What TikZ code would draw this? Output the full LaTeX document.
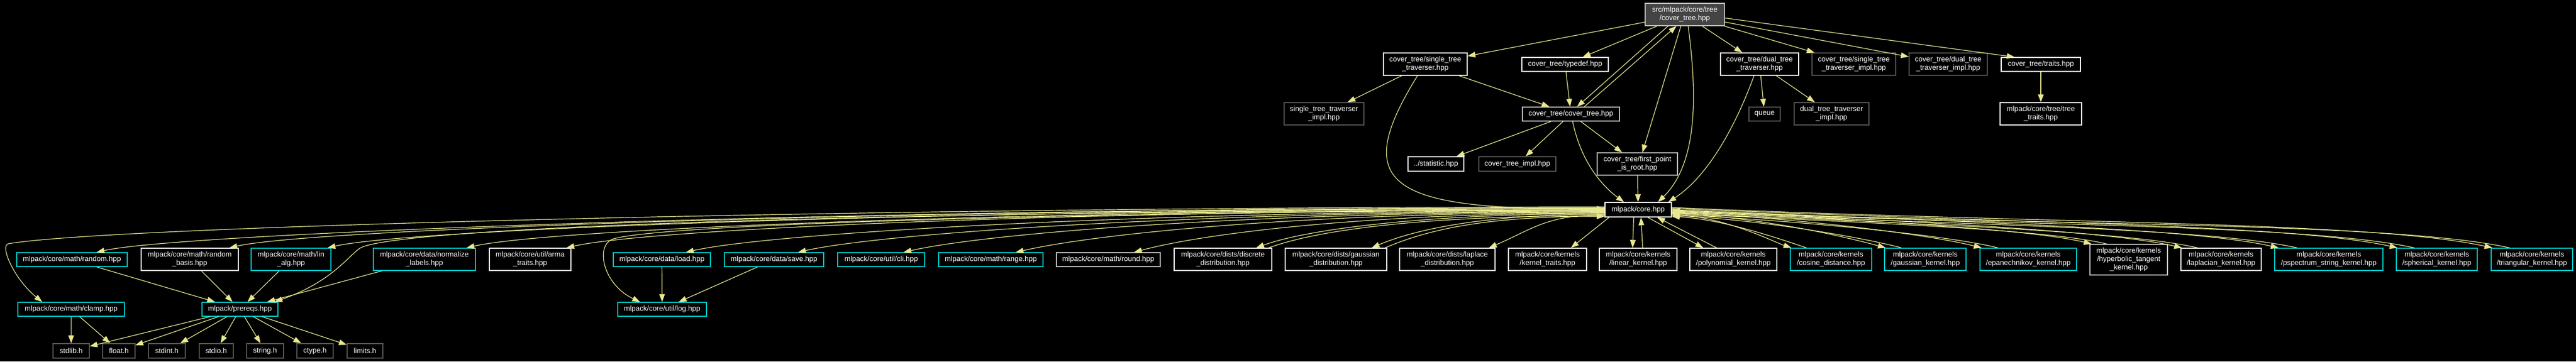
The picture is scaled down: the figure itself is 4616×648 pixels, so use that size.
\documentclass[tikz,border=0pt]{standalone}
\usepackage{fontspec}
\setmainfont{Liberation Sans}
\usetikzlibrary{arrows.meta,calc}
\definecolor{edgec}{RGB}{232,232,145}
\definecolor{cyanc}{RGB}{0,200,200}
\definecolor{grayd}{RGB}{85,85,85}
\definecolor{grayl}{RGB}{192,192,192}
\definecolor{topfill}{RGB}{68,68,68}
\tikzset{
  nb/.style={rectangle, fill=black, text=white, line width=0.7pt, inner sep=0pt, align=center, font=\fontsize{6.5pt}{7.5pt}\selectfont},
  nw/.style={nb, draw=white},
  nc/.style={nb, draw=cyanc},
  nd/.style={nb, draw=grayd},
  nl/.style={nb, draw=grayl},
  bx/.style 2 args={minimum width=#1*0.5pt, minimum height=#2*0.5pt},
  dep/.style={draw=edgec, line width=0.6pt, -{Triangle[length=7pt,width=5pt]}},
}
\begin{document}
\begin{tikzpicture}[x=0.5pt,y=-0.5pt]
\fill[black] (0,0) rectangle (4616,648);
\useasboundingbox (0,0) rectangle (4616,648);
% ---- top part
\node[nl, fill=topfill, bx={142}{40}] (top) at (3019,26) {src/mlpack/core/tree\\/cover\_tree.hpp};
\node[nw, bx={150}{40}] (stt) at (2554,115) {cover\_tree/single\_tree\\\_traverser.hpp};
\node[nw, bx={155}{25}] (typedef) at (2804.5,115.5) {cover\_tree/typedef.hpp};
\node[nl, bx={174}{25}] (ctree) at (2815,204.5) {cover\_tree/cover\_tree.hpp};
\node[nd, bx={143}{40}] (sttimpl) at (2372.5,204) {single\_tree\_traverser\\\_impl.hpp};
\node[nw, bx={140}{40}] (dtt) at (3153,115) {cover\_tree/dual\_tree\\\_traverser.hpp};
\node[nd, bx={150}{40}] (cstti) at (3322,115) {cover\_tree/single\_tree\\\_traverser\_impl.hpp};
\node[nd, bx={140}{40}] (cdtti) at (3491,115) {cover\_tree/dual\_tree\\\_traverser\_impl.hpp};
\node[nw, bx={142}{25}] (traits) at (3657,115.5) {cover\_tree/traits.hpp};
\node[nw, bx={146}{40}] (treetraits) at (3657,204) {mlpack/core/tree/tree\\\_traits.hpp};
\node[nd, bx={56}{25}] (queue) at (3162,204.5) {queue};
\node[nd, bx={134}{40}] (dttimpl) at (3282,204) {dual\_tree\_traverser\\\_impl.hpp};
\node[nw, bx={100}{26}] (statistic) at (2573,294) {../statistic.hpp};
\node[nd, bx={138}{26}] (ctimpl) at (2719,294) {cover\_tree\_impl.hpp};
\node[nl, bx={144}{40}] (fpir) at (2934,294) {cover\_tree/first\_point\\\_is\_root.hpp};
\node[nw, bx={119}{26}] (core) at (2935.5,376) {mlpack/core.hpp};
% ---- bottom row
\node[nc, bx={198}{25}] (random) at (129,465.5) {mlpack/core/math/random.hpp};
\node[nw, bx={174}{40}] (rbasis) at (340,465) {mlpack/core/math/random\\\_basis.hpp};
\node[nc, bx={143}{40}] (linalg) at (521.5,465) {mlpack/core/math/lin\\\_alg.hpp};
\node[nc, bx={183}{40}] (normlabels) at (760.5,465) {mlpack/core/data/normalize\\\_labels.hpp};
\node[nw, bx={146}{40}] (armatraits) at (950,465) {mlpack/core/util/arma\\\_traits.hpp};
\node[nc, bx={174}{25}] (load) at (1186,465.5) {mlpack/core/data/load.hpp};
\node[nc, bx={178}{25}] (save) at (1387,465.5) {mlpack/core/data/save.hpp};
\node[nc, bx={156}{25}] (cli) at (1579,465.5) {mlpack/core/util/cli.hpp};
\node[nc, bx={187}{25}] (range) at (1775.5,465.5) {mlpack/core/math/range.hpp};
\node[nl, bx={186}{25}] (round) at (1986,465.5) {mlpack/core/math/round.hpp};
\node[nw, bx={175}{40}] (discrete) at (2191.5,465) {mlpack/core/dists/discrete\\\_distribution.hpp};
\node[nw, bx={182}{40}] (gaussdist) at (2394,465) {mlpack/core/dists/gaussian\\\_distribution.hpp};
\node[nw, bx={171}{40}] (laplacedist) at (2593.5,465) {mlpack/core/dists/laplace\\\_distribution.hpp};
\node[nw, bx={140}{40}] (kerneltraits) at (2773,465) {mlpack/core/kernels\\/kernel\_traits.hpp};
\node[nw, bx={139}{40}] (linear) at (2935.5,465) {mlpack/core/kernels\\/linear\_kernel.hpp};
\node[nw, bx={156}{40}] (poly) at (3106,465) {mlpack/core/kernels\\/polynomial\_kernel.hpp};
\node[nc, bx={146}{40}] (cosine) at (3281,465) {mlpack/core/kernels\\/cosine\_distance.hpp};
\node[nc, bx={146}{40}] (gausskernel) at (3450,465) {mlpack/core/kernels\\/gaussian\_kernel.hpp};
\node[nc, bx={173}{40}] (epan) at (3634.5,465) {mlpack/core/kernels\\/epanechnikov\_kernel.hpp};
\node[nl, bx={139}{55}] (hyper) at (3814.5,465.5) {mlpack/core/kernels\\/hyperbolic\_tangent\\\_kernel.hpp};
\node[nw, bx={144}{40}] (laplacian) at (3980,465) {mlpack/core/kernels\\/laplacian\_kernel.hpp};
\node[nc, bx={194}{40}] (pspectrum) at (4173,465) {mlpack/core/kernels\\/pspectrum\_string\_kernel.hpp};
\node[nc, bx={145}{40}] (spherical) at (4366.5,465) {mlpack/core/kernels\\/spherical\_kernel.hpp};
\node[nc, bx={146}{40}] (triangular) at (4537,465) {mlpack/core/kernels\\/triangular\_kernel.hpp};
% ---- lower levels
\node[nc, bx={191}{25}] (clamp) at (127.5,554.5) {mlpack/core/math/clamp.hpp};
\node[nc, bx={136}{25}] (prereqs) at (430,554.5) {mlpack/prereqs.hpp};
\node[nc, bx={159}{25}] (log) at (1186.5,554.5) {mlpack/core/util/log.hpp};
\node[nd, bx={65}{26}] (stdlib) at (127.5,629) {stdlib.h};
\node[nd, bx={58}{26}] (float) at (213,629) {float.h};
\node[nd, bx={66}{26}] (stdint) at (299,629) {stdint.h};
\node[nd, bx={61}{26}] (stdio) at (387.5,629) {stdio.h};
\node[nd, bx={66}{26}] (string) at (475,629) {string.h};
\node[nd, bx={65}{26}] (ctype) at (564.5,629) {ctype.h};
\node[nd, bx={64}{26}] (limits) at (654,629) {limits.h};
% ---- edges, top part
\draw[dep] (top) -- (stt);
\draw[dep] (top) -- (typedef);
\draw[dep] ($(top.south)+(-30,0)$) -- ($(ctree.north)+(11,0)$);
\draw[dep] ($(ctree.north)+(24,0)$) -- ($(top.south)+(-15,0)$);
\draw[dep] ($(top.south)+(-7,0)$) -- ($(fpir.north)+(9,0)$);
\draw[dep] ($(top.south)+(6,0)$) .. controls (3040,160) and (3045,290) .. ($(core.north)+(35.5,0)$);
\draw[dep] (top) -- (dtt);
\draw[dep] (top) -- (cstti);
\draw[dep] (top) -- (cdtti);
\draw[dep] ($(top.north east)+(0,27)$) -- ($(traits.north)+(-47,0)$);
\draw[dep] (traits) -- (treetraits);
\draw[dep] (stt) -- (sttimpl);
\draw[dep] (stt) -- (ctree);
\draw[dep] ($(stt.south)+(-14,0)$) .. controls (2420,330) and (2480,378) .. ($(core.west)+(0,-2)$);
\draw[dep] (typedef) -- (ctree);
\draw[dep] (ctree) -- (statistic);
\draw[dep] (ctree) -- (ctimpl);
\draw[dep] (ctree) -- (fpir);
\draw[dep] ($(ctree.south)+(3,0)$) .. controls (2835,300) and (2880,340) .. ($(core.north)+(-25.5,0)$);
\draw[dep] (fpir) -- (core);
\draw[dep] (dtt) -- (queue);
\draw[dep] (dtt) -- (dttimpl);
\draw[dep] ($(dtt.south)+(-10,0)$) .. controls (3120,200) and (3070,310) .. ($(core.north)+(54,0)$);
% ---- core to the left
\draw[dep] ($(core.west)+(0,-5)$) .. controls (1600,371) and (200,405) .. (15,437) .. controls (-1,440) and (25,500) .. ($(clamp.north)+(-52,0)$);
\draw[dep] ($(core.west)+(0,1)$) .. controls (1500,377) and (700,410) .. (645,445) .. controls (625,458) and (595,505) .. ($(prereqs.north)+(62,0)$);
\draw[dep] (core.west) .. controls (2000,380) and (1200,400) .. (1100,428) .. controls (1065,438) and (1080,510) .. ($(log.north)+(-39.5,0)$);
\draw[dep] ($(core.west)+(0,-3.5)$) .. controls (1525,372.5) and (323,418) .. ($(random.north)+(44,0)$);
\draw[dep] ($(core.west)+(0,-2.3)$) .. controls (1643.5,373.7) and (561,410) .. ($(rbasis.north)+(71,0)$);
\draw[dep] ($(core.west)+(0,-1.4)$) .. controls (1731.5,374.6) and (737,410) .. ($(linalg.north)+(65.5,0)$);
\draw[dep] ($(core.west)+(0,-0.2)$) .. controls (1856,375.8) and (986,410) .. ($(normlabels.north)+(75.5,0)$);
\draw[dep] ($(core.west)+(0,0.7)$) .. controls (1945.5,376.7) and (1165,410) .. ($(armatraits.north)+(65,0)$);
\draw[dep] ($(core.west)+(0,1.8)$) .. controls (2052.5,377.8) and (1379,418) .. ($(load.north)+(43,0)$);
\draw[dep] ($(core.west)+(0,2.8)$) .. controls (2153,378.8) and (1580,418) .. ($(save.north)+(43,0)$);
\draw[dep] ($(core.west)+(0,3.7)$) .. controls (2247.5,379.7) and (1769,418) .. ($(cli.north)+(40,0)$);
\draw[dep] ($(core.west)+(0,4.7)$) .. controls (2348,380.7) and (1970,418) .. ($(range.north)+(44.5,0)$);
\draw[dep] ($(core.west)+(0,5.8)$) .. controls (2454,381.8) and (2158.6,418) .. ($(round.north)+(46,0)$);
\draw[dep] ($(core.west)+(0,6.9)$) .. controls (2563.5,382.9) and (2344.75,410) .. ($(discrete.north)+(59.5,0)$);
\draw[dep] ($(core.west)+(0,7.9)$) .. controls (2667,383.9) and (2538,410) .. ($(gaussdist.north)+(64,0)$);
\draw[dep] ($(core.west)+(0,9)$) .. controls (2772,385) and (2748,410) .. ($(laplacedist.north)+(74.5,0)$);
\draw[dep] ($(core.south west)+(8,0)$) -- ($(kerneltraits.north)+(42,0)$);
\draw[dep] ($(discrete.north)+(82,0)$) .. controls (2367.25,410) and (2563.5,386.9) .. ($(core.west)+(0,10.9)$);
\draw[dep] ($(gaussdist.north)+(88,0)$) .. controls (2562,410) and (2667,387.9) .. ($(core.west)+(0,11.9)$);
% ---- core straight down
\draw[dep] ($(core.south)+(-8,0)$) -- ($(linear.north)+(-10,0)$);
\draw[dep] ($(linear.north)+(8,0)$) -- ($(core.south)+(5,0)$);
\draw[dep] ($(core.south)+(17,0)$) -- ($(poly.north)+(-54,0)$);
\draw[dep] ($(poly.north)+(-30,0)$) -- ($(core.south)+(34,0)$);
% ---- core to the right
\draw[dep] ($(core.east)+(0,8)$) .. controls (3091.75,388.3) and (3177.75,433.55) .. ($(cosine.north)+(-71,0)$);
\draw[dep] ($(cosine.north)+(-44,0)$) .. controls (3204.75,433.55) and (3091.75,393.3) .. ($(core.east)+(0,12)$);
\draw[dep] ($(core.east)+(0,6.3)$) .. controls (3167.8,390) and (3321.4,428.5) .. ($(gausskernel.north)+(-71,0)$);
\draw[dep] ($(gausskernel.north)+(-43,0)$) .. controls (3349.4,428.5) and (3167.8,395) .. ($(core.east)+(0,10.3)$);
\draw[dep] ($(core.east)+(0,4.7)$) .. controls (3245.2,391.8) and (3467.6,423.3) .. ($(epan.north)+(-83.5,0)$);
\draw[dep] ($(epan.north)+(-54.5,0)$) .. controls (3496.6,423.3) and (3245.2,396.8) .. ($(core.east)+(0,8.7)$);
\draw[dep] ($(core.east)+(0,2.8)$) .. controls (3333.9,393.9) and (3635,410.4) .. ($(hyper.north)+(-66.5,0)$);
\draw[dep] ($(hyper.north)+(-39.5,0)$) .. controls (3662,410.4) and (3333.9,398.9) .. ($(core.east)+(0,6.8)$);
\draw[dep] ($(core.east)+(0,1.3)$) .. controls (3406.75,395.6) and (3772.75,412.55) .. ($(laplacian.north)+(-70,0)$);
\draw[dep] ($(laplacian.north)+(-42,0)$) .. controls (3800.75,412.55) and (3406.75,400.6) .. ($(core.east)+(0,5.3)$);
\draw[dep] ($(core.east)+(0,-0.4)$) .. controls (3484.6,397.4) and (3919.8,407.4) .. ($(pspectrum.north)+(-90,0)$);
\draw[dep] ($(pspectrum.north)+(-57,0)$) .. controls (3952.8,407.4) and (3484.6,402.4) .. ($(core.east)+(0,3.6)$);
\draw[dep] ($(core.east)+(0,-2.4)$) .. controls (3580.45,399.6) and (4100.85,401) .. ($(spherical.north)+(-70.5,0)$);
\draw[dep] ($(spherical.north)+(-40.5,0)$) .. controls (4130.85,401) and (3580.45,404.6) .. ($(core.east)+(0,1.6)$);
\draw[dep] ($(core.east)+(0,-4)$) .. controls (3656.95,401.4) and (4245.35,395.9) .. ($(triangular.north)+(-71,0)$);
\draw[dep] ($(triangular.north)+(-40,0)$) .. controls (4276.35,395.9) and (3656.95,406.4) .. ($(core.east)+(0,1)$);
% ---- lower edges
\draw[dep] (random) -- (prereqs);
\draw[dep] (rbasis) -- (prereqs);
\draw[dep] (linalg) -- (prereqs);
\draw[dep] (normlabels) -- (prereqs);
\draw[dep] (load) -- (log);
\draw[dep] (save) -- (log);
\draw[dep] (clamp) -- (stdlib);
\draw[dep] (clamp) -- (float);
\draw[dep] (prereqs) -- (stdlib);
\draw[dep] (prereqs) -- (float);
\draw[dep] (prereqs) -- (stdint);
\draw[dep] (prereqs) -- (stdio);
\draw[dep] (prereqs) -- (string);
\draw[dep] (prereqs) -- (ctype);
\draw[dep] (prereqs) -- (limits);
\end{tikzpicture}
\end{document}
